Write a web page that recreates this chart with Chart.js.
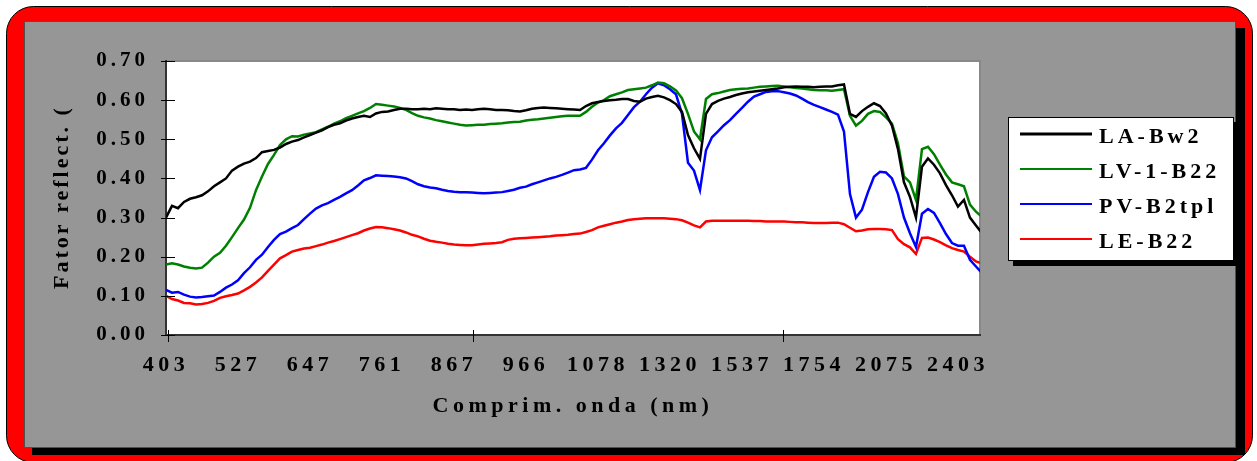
<!DOCTYPE html>
<html><head><meta charset="utf-8">
<script src="https://cdn.jsdelivr.net/npm/chart.js@4"></script>
<style>html,body{margin:0;padding:0;background:#fff;overflow:hidden}</style>
</head><body><canvas id="c" width="1257" height="461"></canvas>
<script>
// ---- data ----
const xLabels = ['403','527','647','761','867','966','1078','1320','1537','1754','2075','2403'];
const yTicks = [0, 0.1, 0.2, 0.3, 0.4, 0.5, 0.6, 0.7];
const SAMPLES_PER_LABEL = 12; // samples between two consecutive category labels

const laBw2 = [
0.30,0.33,0.324,0.34,0.348,0.352,0.357,0.367,0.38,0.39,
0.40,0.42,0.43,0.438,0.443,0.452,0.467,0.47,0.473,0.479,
0.488,0.494,0.498,0.505,0.511,0.517,0.523,0.531,0.537,0.541,
0.548,0.553,0.557,0.56,0.557,0.566,0.57,0.571,0.575,0.578,
0.578,0.577,0.577,0.578,0.577,0.579,0.578,0.577,0.577,0.575,
0.576,0.575,0.577,0.578,0.577,0.575,0.575,0.574,0.572,0.571,
0.574,0.578,0.58,0.581,0.58,0.579,0.578,0.577,0.576,0.575,
0.585,0.592,0.595,0.598,0.60,0.601,0.603,0.603,0.598,0.596,
0.604,0.608,0.611,0.607,0.60,0.59,0.57,0.511,0.477,0.45,
0.565,0.59,0.598,0.604,0.608,0.613,0.617,0.62,0.622,0.624,
0.626,0.628,0.63,0.633,0.634,0.635,0.634,0.634,0.633,0.634,
0.635,0.635,0.638,0.64,0.565,0.557,0.572,0.583,0.592,0.585,
0.566,0.535,0.475,0.39,0.353,0.30,0.43,0.451,0.435,0.413,
0.383,0.357,0.328,0.345,0.30,0.28,0.26];

const lv1B22 = [
0.18,0.183,0.18,0.175,0.172,0.17,0.172,0.185,0.2,0.21,
0.228,0.25,0.273,0.295,0.325,0.37,0.405,0.437,0.46,0.485,
0.50,0.508,0.507,0.512,0.515,0.518,0.525,0.532,0.54,0.546,
0.554,0.56,0.566,0.572,0.58,0.59,0.588,0.586,0.584,0.58,
0.575,0.567,0.56,0.556,0.553,0.549,0.546,0.543,0.54,0.537,
0.535,0.536,0.537,0.537,0.539,0.54,0.541,0.543,0.544,0.545,
0.548,0.55,0.551,0.553,0.555,0.557,0.559,0.56,0.56,0.56,
0.57,0.583,0.594,0.60,0.61,0.615,0.62,0.626,0.628,0.63,
0.632,0.638,0.645,0.643,0.635,0.625,0.605,0.565,0.52,0.50,
0.603,0.615,0.618,0.622,0.626,0.628,0.629,0.63,0.632,0.634,
0.635,0.636,0.637,0.635,0.633,0.631,0.63,0.628,0.626,0.625,
0.625,0.624,0.626,0.628,0.56,0.535,0.547,0.565,0.572,0.57,
0.556,0.54,0.49,0.405,0.39,0.345,0.475,0.481,0.462,0.435,
0.41,0.39,0.385,0.38,0.333,0.315,0.302];

const pvB2tpl = [
0.115,0.108,0.11,0.103,0.098,0.096,0.097,0.099,0.101,0.11,
0.121,0.129,0.14,0.158,0.173,0.192,0.205,0.225,0.243,0.258,
0.264,0.273,0.281,0.296,0.31,0.323,0.331,0.337,0.345,0.353,
0.362,0.37,0.382,0.395,0.401,0.408,0.407,0.406,0.405,0.403,
0.40,0.393,0.385,0.38,0.377,0.375,0.371,0.368,0.366,0.365,
0.365,0.364,0.363,0.362,0.363,0.364,0.365,0.368,0.371,0.376,
0.379,0.385,0.39,0.395,0.40,0.404,0.409,0.415,0.421,0.423,
0.427,0.448,0.472,0.49,0.51,0.528,0.542,0.562,0.582,0.596,
0.615,0.632,0.643,0.638,0.628,0.615,0.565,0.44,0.42,0.37,
0.472,0.505,0.52,0.536,0.549,0.565,0.58,0.596,0.609,0.615,
0.621,0.623,0.623,0.62,0.617,0.612,0.604,0.595,0.588,0.582,
0.576,0.57,0.563,0.52,0.36,0.30,0.32,0.365,0.404,0.417,
0.415,0.40,0.36,0.30,0.26,0.225,0.31,0.322,0.312,0.286,
0.258,0.235,0.228,0.228,0.192,0.175,0.158];

const leB22 = [
0.10,0.092,0.088,0.082,0.081,0.078,0.079,0.082,0.087,0.095,
0.099,0.102,0.106,0.114,0.123,0.134,0.147,0.164,0.18,0.196,
0.204,0.213,0.217,0.221,0.223,0.227,0.231,0.236,0.24,0.245,
0.25,0.255,0.26,0.267,0.272,0.276,0.275,0.273,0.27,0.267,
0.262,0.256,0.252,0.246,0.241,0.238,0.236,0.233,0.231,0.23,
0.229,0.229,0.231,0.233,0.234,0.235,0.237,0.243,0.246,0.247,
0.248,0.249,0.25,0.251,0.252,0.254,0.255,0.256,0.258,0.259,
0.263,0.268,0.275,0.279,0.283,0.287,0.29,0.294,0.296,0.297,
0.298,0.298,0.298,0.298,0.297,0.296,0.293,0.287,0.28,0.275,
0.29,0.292,0.292,0.292,0.292,0.292,0.292,0.292,0.291,0.291,
0.29,0.29,0.29,0.29,0.289,0.288,0.288,0.287,0.286,0.286,
0.286,0.287,0.287,0.283,0.274,0.265,0.267,0.27,0.271,0.271,
0.27,0.268,0.245,0.232,0.224,0.207,0.248,0.249,0.244,0.237,
0.229,0.222,0.217,0.213,0.2,0.188,0.183];

const seriesNames = ['LA-Bw2','LV-1-B22','PV-B2tpl','LE-B22'];
const seriesValues = [laBw2, lv1B22, pvB2tpl, leB22];
const seriesColors = ['#000000','#008000','#0000FF','#FF0000'];

const yTitle = 'Fator reflect. (';
const xTitle = 'Comprim. onda (nm)';

// ---- style ----
const FONT = "'Liberation Serif','Times New Roman',serif";
const X_MAX = 11.306;
const XTICK_MARKS = [0.03, 4.27, 8.57];

const framePlugin = {
  id: 'frame',
  beforeDraw(chart) {
    const ctx = chart.ctx, a = chart.chartArea;
    [['x','4.5px'],['y','4px']].forEach(([id, sp]) => {
      const s = chart.scales[id];
      if (s && !s._lsWrapped) {
        const orig = s.drawLabels.bind(s);
        s.drawLabels = (ca) => { ctx.save(); ctx.letterSpacing = sp; orig(ca); ctx.restore(); };
        s._lsWrapped = true;
      }
    });
    ctx.save();
    ctx.fillStyle = '#ffffff';
    ctx.fillRect(0, 0, chart.width, chart.height);
    ctx.beginPath();
    ctx.roundRect(6.5, 6.5, 1246, 456, 27);
    ctx.fillStyle = '#FF0000';
    ctx.fill();
    ctx.lineWidth = 1; ctx.strokeStyle = '#000';
    ctx.stroke();
    ctx.fillStyle = '#000';
    ctx.fillRect(32, 28, 1213, 427);
    ctx.fillStyle = '#969696';
    ctx.fillRect(24, 21, 1212, 427);
    ctx.strokeStyle = '#505050';
    ctx.strokeRect(24.5, 21.5, 1211, 426);
    ctx.fillStyle = '#fff';
    ctx.fillRect(a.left, a.top, a.right - a.left, a.bottom - a.top);
    ctx.strokeStyle = '#888';
    ctx.lineWidth = 2;
    ctx.strokeRect(a.left, a.top, a.right - a.left, a.bottom - a.top);
    ctx.restore();
  },
  afterDraw(chart) {
    const ctx = chart.ctx, a = chart.chartArea;
    const xs = chart.scales.x, ys = chart.scales.y;
    ctx.save();
    ctx.strokeStyle = '#000'; ctx.lineWidth = 1;
    ys.ticks.forEach(t => {
      const py = Math.round(ys.getPixelForValue(t.value)) + 0.5;
      ctx.beginPath(); ctx.moveTo(a.left - 5, py); ctx.lineTo(a.left + 9, py); ctx.stroke();
    });
    XTICK_MARKS.forEach(v => {
      const px = Math.round(xs.getPixelForValue(v)) + 0.5;
      ctx.beginPath(); ctx.moveTo(px, a.bottom - 5); ctx.lineTo(px, a.bottom + 7); ctx.stroke();
    });
    ctx.fillStyle = '#000';
    ctx.font = 'bold 22px ' + FONT;
    ctx.textAlign = 'center';
    ctx.textBaseline = 'alphabetic';
    ctx.letterSpacing = '4.5px';
    ctx.fillText(xTitle, 573, 412);
    ctx.letterSpacing = '3px';
    ctx.save();
    ctx.translate(68, 197);
    ctx.rotate(-Math.PI / 2);
    ctx.fillText(yTitle, 0, 0);
    ctx.restore();
    const lx = 1008, ly = 117, lw = 226, lh = 144;
    ctx.fillStyle = '#000';
    ctx.fillRect(lx + 5, ly + 5, lw, lh);
    ctx.fillStyle = '#fff';
    ctx.fillRect(lx, ly, lw, lh);
    ctx.strokeStyle = '#000'; ctx.lineWidth = 1;
    ctx.strokeRect(lx + 0.5, ly + 0.5, lw - 1, lh - 1);
    ctx.font = 'bold 22px ' + FONT;
    ctx.letterSpacing = '4px';
    ctx.textAlign = 'left';
    chart.data.datasets.forEach((d, k) => {
      const yy = 134 + k * 35;
      ctx.strokeStyle = d.borderColor; ctx.lineWidth = k === 0 ? 3 : 2;
      ctx.beginPath(); ctx.moveTo(1020, yy); ctx.lineTo(1092, yy); ctx.stroke();
      ctx.fillStyle = '#000';
      ctx.fillText(d.label, 1099, yy + 9);
    });
    ctx.restore();
  }
};

new Chart(document.getElementById('c').getContext('2d'), {
  type: 'line',
  data: {
    datasets: seriesNames.map((name, k) => ({
      label: name,
      data: seriesValues[k].map((v, i) => ({ x: i / SAMPLES_PER_LABEL, y: v })),
      borderColor: seriesColors[k],
      borderWidth: 2.5,
      pointRadius: 0,
      tension: 0,
      fill: false
    }))
  },
  options: {
    responsive: false,
    animation: false,
    events: [],
    devicePixelRatio: 1,
    layout: { padding: { left: 0, top: 61, right: 277, bottom: 0 } },
    plugins: { legend: { display: false }, tooltip: { enabled: false } },
    scales: {
      x: {
        type: 'linear', min: 0, max: X_MAX,
        afterBuildTicks: s => { s.ticks = xLabels.map((_, k) => ({ value: k })); },
        afterFit: s => { s.height = 126; },
        grid: { display: false, drawTicks: false },
        border: { display: true, color: '#333', width: 2 },
        ticks: {
          autoSkip: false, maxRotation: 0, minRotation: 0, padding: 17, color: '#000',
          font: { family: FONT, size: 22, weight: 'bold' },
          callback: (v, i) => xLabels[i]
        }
      },
      y: {
        min: 0, max: 0.7,
        afterBuildTicks: s => { s.ticks = yTicks.map(v => ({ value: v })); },
        afterFit: s => { s.width = 166; },
        grid: { display: false, drawTicks: false },
        border: { display: true, color: '#333', width: 2 },
        ticks: {
          padding: 17, color: '#000',
          font: { family: FONT, size: 21, weight: 'bold' },
          callback: v => v.toFixed(2)
        }
      }
    }
  },
  plugins: [framePlugin]
});
</script></body></html>
